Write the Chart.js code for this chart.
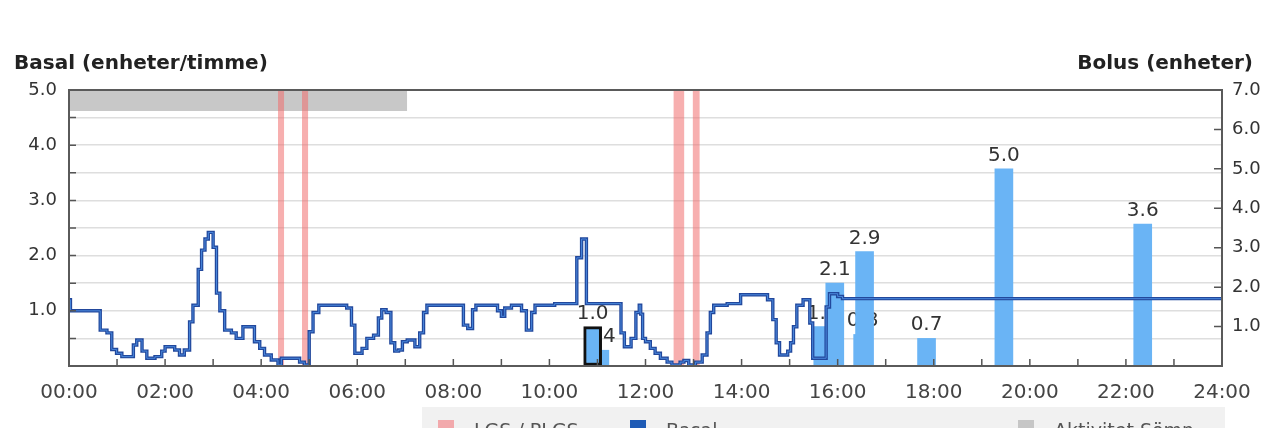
<!DOCTYPE html>
<html>
<head>
<meta charset="utf-8">
<script src="https://cdn.jsdelivr.net/npm/chart.js@4.4.0/dist/chart.umd.min.js"></script>
<style>
  html, body { margin: 0; padding: 0; background: #fff; overflow: hidden; }
  #wrap { width: 1268px; height: 428px; }
</style>
</head>
<body>
<div id="wrap"><canvas id="pumpChart" width="1268" height="428"></canvas></div>
<script>
// basal rate steps: hour the rate starts -> units/hour
const basalHours = [0, 0.03, 0.65, 0.79, 0.89, 0.99, 1.1, 1.34, 1.41, 1.52, 1.62, 1.79, 1.93, 2.0, 2.2, 2.3, 2.4,
  2.51, 2.58, 2.69, 2.76, 2.83, 2.9, 3.0, 3.07, 3.14, 3.24, 3.38, 3.48, 3.62, 3.86, 3.97, 4.07, 4.21, 4.35,
  4.42, 4.8, 4.9, 5.0, 5.08, 5.2, 5.78, 5.88, 5.95, 6.1, 6.2, 6.34, 6.44, 6.51, 6.6, 6.7, 6.78, 6.86, 6.94,
  7.04, 7.2, 7.3, 7.38, 7.45, 8.21, 8.3, 8.4, 8.47, 8.92, 9.0, 9.07, 9.21, 9.42, 9.52, 9.63, 9.7, 10.11,
  10.57, 10.67, 10.77, 11.49, 11.56, 11.7, 11.8, 11.87, 11.9, 11.94, 12.0, 12.1, 12.2, 12.31, 12.45, 12.55,
  12.72, 12.8, 12.9, 13.04, 13.18, 13.28, 13.35, 13.42, 13.7, 13.98, 14.54, 14.65, 14.72, 14.79, 14.96,
  15.02, 15.08, 15.15, 15.28, 15.42, 15.48, 15.76, 15.83, 16.0, 16.1, 24];
const basalRates = [1.2, 1.0, 0.65, 0.6, 0.3, 0.23, 0.17, 0.38, 0.47, 0.27, 0.14, 0.17, 0.27, 0.35, 0.29, 0.2, 0.29,
  0.8, 1.1, 1.75, 2.1, 2.3, 2.42, 2.15, 1.32, 1.0, 0.65, 0.6, 0.5, 0.71, 0.44, 0.32, 0.2, 0.11, 0.02,
  0.14, 0.07, 0.02, 0.62, 0.97, 1.1, 1.05, 0.74, 0.23, 0.32, 0.5, 0.56, 0.87, 1.02, 0.97, 0.42, 0.27, 0.29, 0.44,
  0.47, 0.35, 0.6, 0.97, 1.1, 0.74, 0.68, 1.02, 1.1, 1.0, 0.9, 1.05, 1.1, 1.0, 0.65, 0.97, 1.1, 1.13,
  1.96, 2.3, 1.13, 0.6, 0.35, 0.5, 0.97, 1.1, 0.94, 0.5, 0.44, 0.32, 0.23, 0.14, 0.07, 0.02,
  0.07, 0.1, 0.02, 0.07, 0.2, 0.6, 0.97, 1.1, 1.13, 1.29, 1.2, 0.84, 0.42, 0.2, 0.27,
  0.42, 0.71, 1.1, 1.2, 0.78, 0.14, 1.07, 1.31, 1.26, 1.22, 1.22];

// bolus doses (right axis)
const bolusHours = [10.9, 15.94, 16.56, 17.85, 19.46, 22.35];
const bolusUnits = [1.0, 2.1, 2.9, 0.7, 5.0, 3.6];
const bolusSelected = [true, false, false, false, false, false];
// boluses that sit behind the ones above
const hiddenBolusHours = [11.05, 15.69, 16.52];
const hiddenBolusUnits = [0.4, 1.0, 0.8];

// LGS / PLGS suspend periods
const lgsStart = [4.35, 4.85, 12.58, 12.98];
const lgsEnd = [4.48, 4.98, 12.81, 13.13];

// Aktivitet Sömn
const sleepHours = [0, 7.04];
const sleepRange = [4.62, 5.0];

const basalMax = 5;
const bolusMax = 7;

const legendItems = [
  { label: 'LGS / PLGS', color: '#f2a9ac', x: 438 },
  { label: 'Basal', color: '#1f5bb5', x: 630 },
  { label: 'Aktivitet Sömn', color: '#c6c6c6', x: 1018 }
];

Chart.defaults.font.family = '"DejaVu Sans", sans-serif';

const basalPoints = basalHours.map((h, i) => ({ x: h, y: basalRates[i] }));

const datasets = [
  {
    type: 'line', label: 'Basal', data: basalPoints, yAxisID: 'y',
    stepped: true, borderColor: '#4a88dc', borderWidth: 1, pointRadius: 0, fill: false, order: 0
  },
  {
    type: 'line', label: 'Basal', data: basalPoints, yAxisID: 'y',
    stepped: true, borderColor: '#22489c', borderWidth: 3.4, pointRadius: 0, fill: false, order: 1
  },
  {
    type: 'bar', label: 'Bolus', yAxisID: 'y2', grouped: false, order: 2, valueLabels: true,
    data: bolusHours.map((h, i) => ({ x: h, y: bolusUnits[i] })),
    backgroundColor: '#6ab4f5',
    borderColor: bolusSelected.map(s => s ? '#111' : '#6ab4f5'),
    borderWidth: bolusSelected.map(s => s ? 3 : 0),
    borderSkipped: false, barThickness: 18
  },
  {
    type: 'bar', label: 'Bolus', yAxisID: 'y2', grouped: false, order: 3, valueLabels: true,
    data: hiddenBolusHours.map((h, i) => ({ x: h, y: hiddenBolusUnits[i] })),
    backgroundColor: '#6ab4f5', borderWidth: 0, barThickness: 18
  }
];

lgsStart.forEach((s, i) => {
  datasets.push({
    type: 'line', label: 'LGS / PLGS', yAxisID: 'y', order: 4,
    data: [{ x: s, y: basalMax }, { x: lgsEnd[i], y: basalMax }],
    borderWidth: 0, pointRadius: 0, fill: 'origin', backgroundColor: 'rgba(240,110,110,0.55)'
  });
});

datasets.push({
  type: 'line', label: 'Aktivitet Sömn', yAxisID: 'y', order: 5,
  data: sleepHours.map(h => ({ x: h, y: sleepRange[1] })),
  borderWidth: 0, pointRadius: 0, fill: { value: sleepRange[0] }, backgroundColor: '#c8c8c8'
});

const valueLabels = {
  id: 'valueLabels',
  afterDatasetDraw(chart, args) {
    const ds = chart.data.datasets[args.index];
    if (!ds.valueLabels) return;
    const ctx = chart.ctx;
    ctx.save();
    ctx.font = '20px "DejaVu Sans"';
    ctx.fillStyle = '#333';
    ctx.textAlign = 'center';
    ctx.textBaseline = 'alphabetic';
    args.meta.data.forEach((bar, i) => {
      ctx.fillText(ds.data[i].y.toFixed(1), bar.x, bar.y - 8);
    });
    ctx.restore();
  }
};

const frameAndText = {
  id: 'frameAndText',
  afterDraw(chart) {
    const { ctx, chartArea: a, scales } = chart;
    ctx.save();
    // inner tick marks
    ctx.strokeStyle = '#555';
    ctx.lineWidth = 1.5;
    ctx.beginPath();
    scales.x.ticks.forEach(t => {
      const px = scales.x.getPixelForValue(t.value);
      ctx.moveTo(px, a.bottom); ctx.lineTo(px, a.bottom - 7);
    });
    scales.y.ticks.forEach(t => {
      const py = scales.y.getPixelForValue(t.value);
      ctx.moveTo(a.left, py); ctx.lineTo(a.left + 7, py);
    });
    scales.y2.ticks.forEach(t => {
      const py = scales.y2.getPixelForValue(t.value);
      ctx.moveTo(a.right, py); ctx.lineTo(a.right - 8, py);
    });
    ctx.stroke();
    // frame
    ctx.strokeStyle = '#5a5a5a';
    ctx.lineWidth = 2;
    ctx.strokeRect(a.left, a.top, a.right - a.left, a.bottom - a.top);
    // axis titles
    ctx.fillStyle = '#222';
    ctx.font = 'bold 20px "DejaVu Sans"';
    ctx.textBaseline = 'alphabetic';
    ctx.textAlign = 'left';
    ctx.fillText('Basal (enheter/timme)', 14, 69);
    ctx.textAlign = 'right';
    ctx.fillText('Bolus (enheter)', 1253, 69);
    // legend
    ctx.fillStyle = '#f1f1f1';
    ctx.fillRect(422, 407, 803, 30);
    ctx.font = '19px "DejaVu Sans"';
    ctx.textAlign = 'left';
    legendItems.forEach(it => {
      ctx.fillStyle = it.color;
      ctx.fillRect(it.x, 420, 16, 16);
      ctx.fillStyle = '#555';
      ctx.fillText(it.label, it.x + 36, 437);
    });
    ctx.restore();
  }
};

new Chart(document.getElementById('pumpChart'), {
  data: { datasets },
  options: {
    responsive: false,
    animation: false,
    events: [],
    layout: { padding: { top: 90, left: 0, right: 0, bottom: 28 } },
    plugins: { legend: { display: false }, tooltip: { enabled: false } },
    scales: {
      x: {
        type: 'linear', min: 0, max: 24, offset: false,
        afterFit: s => { s.height = 34; },
        grid: { display: false, offset: false },
        border: { display: false },
        ticks: {
          stepSize: 1, autoSkip: false, maxRotation: 0, padding: 7,
          color: '#444', font: { size: 20 },
          callback: v => (v % 2 === 0 ? String(v).padStart(2, '0') + ':00' : '')
        }
      },
      y: {
        position: 'left', min: 0, max: basalMax,
        afterFit: s => { s.width = 69; },
        grid: { color: '#dedede', lineWidth: 1.5, drawTicks: false },
        border: { display: false },
        ticks: {
          stepSize: 0.5, padding: 12, color: '#333', font: { size: 18 },
          callback: v => (v > 0 && Number.isInteger(v) ? v.toFixed(1) : '')
        }
      },
      y2: {
        position: 'right', min: 0, max: bolusMax,
        afterFit: s => { s.width = 46; },
        grid: { drawOnChartArea: false, drawTicks: false },
        border: { display: false },
        ticks: {
          stepSize: 0.5, padding: 10, color: '#333', font: { size: 18 },
          callback: v => (v > 0 && Number.isInteger(v) ? v.toFixed(1) : '')
        }
      }
    }
  },
  plugins: [valueLabels, frameAndText]
});
</script>
</body>
</html>
